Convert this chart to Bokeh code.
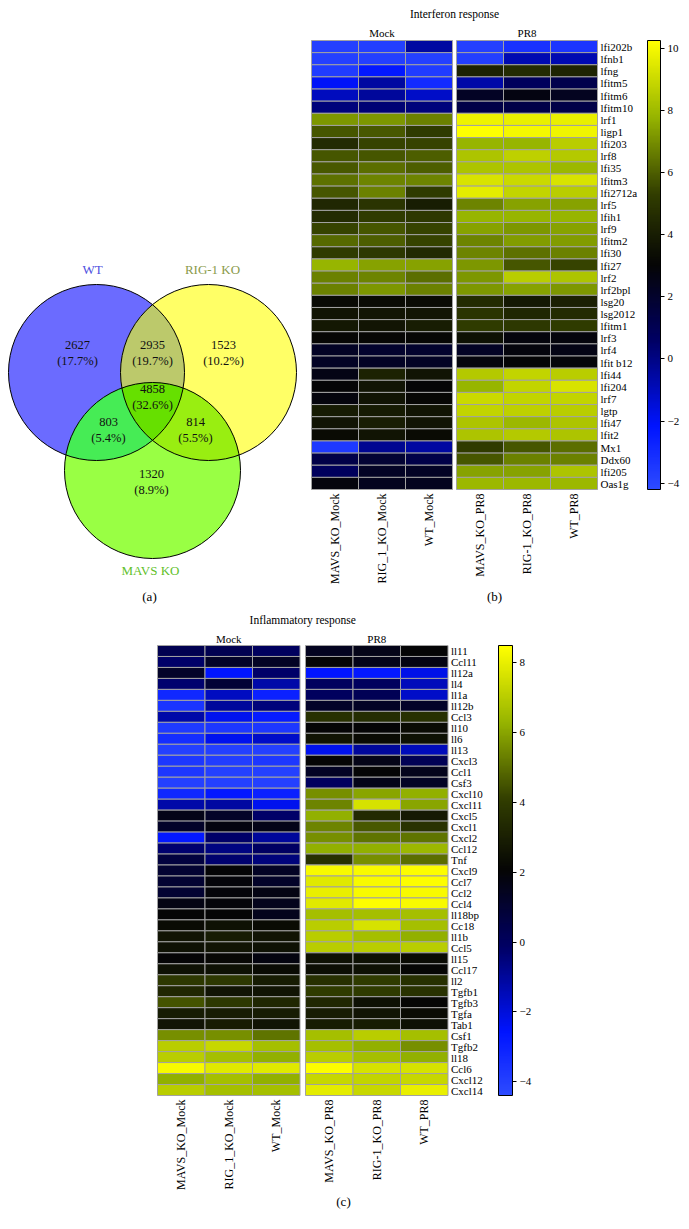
import numpy as np
from bokeh.plotting import figure
from bokeh.models import Range1d, FixedTicker, LinearColorMapper, ColorBar, ColumnDataSource
from bokeh.embed import file_html
from bokeh.resources import INLINE
from bokeh.core.properties import value

FONT = "Liberation Serif"

# ---------------- Venn data ----------------
venn_names = ["WT", "RIG-1 KO", "MAVS KO"]
venn_name_colors = ["#4f4fe0", "#8a9a4a", "#5fbf2a"]
# regions: WT only, RIG only, MAVS only, WT&RIG, WT&MAVS, RIG&MAVS, all three
venn_counts = [2627, 1523, 1320, 2935, 803, 814, 4858]
venn_pcts = ["(17.7%)", "(10.2%)", "(8.9%)", "(19.7%)", "(5.4%)", "(5.5%)", "(32.6%)"]

# ---------------- heatmap common ----------------
samples = ["MAVS_KO_Mock", "RIG_1_KO_Mock", "WT_Mock", "MAVS_KO_PR8", "RIG-1_KO_PR8", "WT_PR8"]
groups = ["Mock", "PR8"]

# ---------------- Interferon heatmap data ----------------
ifn_genes = ["lfi202b", "lfnb1", "lfng", "lfitm5", "lfitm6", "lfitm10", "lrf1", "ligp1", "lfi203",
             "lrf8", "lfi35", "lfitm3", "lfi2712a", "lrf5", "lfih1", "lrf9", "lfitm2", "lfi30",
             "lfi27", "lrf2", "lrf2bpl", "lsg20", "lsg2012", "lfitm1", "lrf3", "lrf4", "lfit b12",
             "lfi44", "lfi204", "lrf7", "lgtp", "lfi47", "lfit2", "Mx1", "Ddx60", "lfi205", "Oas1g"]
ifn_mavs_mock = [-3.8, -3.8, -3.6, -2.0, -1.0, 0.2, 7.2, 5.8, 4.6, 5.8, 5.9, 6.4, 5.8, 4.4, 4.6, 5.4,
                 6.2, 5.2, 7.8, 6.7, 6.7, 3.2, 3.6, 3.8, 3.1, 2.2, 2.2, 2.6, 3.0, 2.8, 3.9, 3.6, 3.3,
                 -3.5, 1.3, 0.8, 2.8]
ifn_rig_mock = [-3.7, -3.7, -2.3, -0.5, -0.4, 0.3, 7.2, 5.9, 5.4, 5.8, 6.3, 6.8, 6.7, 4.9, 5.2, 5.8,
                6.0, 5.1, 7.4, 6.8, 7.2, 3.3, 3.7, 3.7, 3.1, 2.0, 2.2, 4.2, 3.6, 3.6, 3.9, 4.0, 3.6,
                -0.2, 1.8, 2.2, 2.4]
ifn_wt_mock = [-0.5, -3.8, -3.6, -3.0, -1.2, 0.2, 6.7, 5.2, 5.4, 6.0, 6.0, 6.8, 5.2, 4.0, 5.1, 5.4,
               5.4, 4.5, 7.4, 6.3, 6.7, 3.3, 3.7, 4.0, 3.1, 2.0, 2.2, 3.6, 3.0, 3.1, 3.6, 3.6, 3.3,
               -0.5, 1.3, 2.2, 2.4]
ifn_mavs_pr8 = [-3.8, -3.7, 4.2, -0.6, 2.2, 1.3, 9.8, 10.2, 7.8, 8.3, 8.3, 9.3, 9.6, 6.8, 7.8, 7.4,
                6.8, 6.8, 7.2, 7.2, 7.2, 4.6, 4.9, 5.2, 3.5, 2.2, 2.8, 8.5, 7.8, 9.0, 8.8, 8.3, 8.3,
                5.2, 5.8, 7.4, 7.9]
ifn_rig_pr8 = [-3.2, -0.8, 4.6, 0.8, 2.7, 1.3, 9.7, 10.0, 7.8, 8.7, 8.3, 9.0, 8.8, 7.4, 7.8, 7.2,
               7.3, 6.4, 5.8, 8.6, 7.4, 3.8, 4.4, 5.1, 2.8, 2.8, 3.0, 8.8, 8.8, 8.8, 8.7, 7.9, 8.5,
               5.8, 6.7, 7.4, 7.9]
ifn_wt_pr8 = [-3.4, -0.8, 4.3, 1.2, 2.3, 1.3, 9.7, 9.9, 8.6, 8.5, 7.9, 9.3, 8.6, 7.4, 7.8, 7.4,
              7.3, 6.7, 5.4, 8.3, 7.2, 4.1, 4.6, 5.2, 2.8, 2.6, 2.9, 8.6, 9.3, 8.8, 8.6, 8.3, 8.3,
              6.3, 6.7, 8.3, 7.9]
ifn_ticks = [-4, -2, 0, 2, 4, 6, 8, 10]

# ---------------- Inflammatory heatmap data ----------------
inf_genes = ["ll11", "Ccl11", "ll12a", "ll4", "ll1a", "ll12b", "Ccl3", "ll10", "ll6", "ll13", "Cxcl3",
             "Ccl1", "Csf3", "Cxcl10", "Cxcl11", "Cxcl5", "Cxcl1", "Cxcl2", "Ccl12", "Tnf", "Cxcl9",
             "Ccl7", "Ccl2", "Ccl4", "ll18bp", "Cc18", "ll1b", "Ccl5", "ll15", "Ccl17", "ll2", "Tgfb1",
             "Tgfb3", "Tgfa", "Tab1", "Csf1", "Tgfb2", "ll18", "Ccl6", "Cxcl12", "Cxcl14"]
inf_mavs_mock = [0.3, -0.2, 1.2, -0.3, -3.2, -3.6, -1.2, -3.8, -3.4, -4.0, -3.7, -3.7, -4.0, -3.2,
                 -1.2, 1.6, 1.2, -2.7, -0.3, 0.7, 1.0, 1.0, 1.0, 1.7, 2.0, 2.3, 2.6, 2.5, 2.0, 2.5,
                 3.9, 3.3, 4.5, 2.9, 2.6, 5.6, 7.0, 7.0, 8.3, 6.2, 7.0]
inf_rig_mock = [0.3, 1.2, -2.6, 0.9, -1.6, -1.0, -2.3, -3.7, -2.3, -4.0, -3.9, -4.0, -4.0, -2.7,
                -1.1, 1.2, 1.8, -0.2, -0.6, -0.3, 2.0, 1.9, 1.9, 1.9, 2.0, 2.5, 2.9, 2.6, 2.2, 2.5,
                3.9, 2.6, 3.9, 2.9, 2.9, 5.6, 7.3, 6.6, 7.8, 6.6, 6.6]
inf_wt_mock = [0.0, 1.3, -0.2, -1.2, -3.0, -0.5, -2.8, -3.7, -1.7, -4.0, -3.7, -4.0, -4.0, -3.0,
               -2.3, -0.2, 1.6, -1.0, -0.1, -0.5, 1.3, 1.2, 1.7, 1.5, 1.5, 2.3, 2.6, 2.5, 1.8, 2.3,
               2.9, 2.6, 3.3, 2.9, 2.6, 5.1, 6.6, 6.2, 7.8, 6.2, 6.6]
inf_mavs_pr8 = [1.4, 2.0, -2.6, 0.0, 0.0, 1.2, 3.6, 2.0, 2.6, -2.3, 2.0, 1.3, 0.0, 5.6, 5.4, 6.2,
                5.4, 5.6, 6.2, 3.6, 8.3, 7.8, 8.0, 7.8, 6.6, 7.0, 7.0, 7.0, 2.5, 2.4, 3.6, 4.0, 3.3,
                2.9, 2.9, 6.6, 6.6, 7.0, 8.4, 7.3, 7.9]
inf_rig_pr8 = [1.6, 1.6, -2.7, 0.0, 0.2, 1.3, 3.5, 2.0, 2.3, -1.0, 1.6, 2.0, 1.6, 6.0, 7.6, 3.4,
               4.6, 5.1, 6.2, 5.6, 8.3, 8.3, 8.3, 8.4, 6.6, 7.6, 6.6, 7.0, 2.5, 2.5, 4.0, 4.0, 2.5,
               2.6, 2.9, 7.0, 6.2, 6.6, 7.6, 7.2, 7.3]
inf_wt_pr8 = [2.0, 1.7, -2.2, -1.5, -1.7, 1.2, 3.6, 2.3, 2.5, -1.5, 0.2, 1.5, 1.3, 6.2, 6.0, 2.8,
              3.7, 5.1, 6.4, 5.0, 8.4, 8.4, 8.3, 8.3, 6.6, 6.6, 6.2, 7.0, 2.3, 2.1, 3.6, 3.7, 2.1,
              2.3, 2.5, 6.6, 5.6, 6.2, 7.6, 7.3, 8.0]
inf_ticks = [-4, -2, 0, 2, 4, 6, 8]

# ---------------- colour palette (blue - black - yellow) ----------------
_anc_t = [0.0, 0.14, 0.33, 0.5, 0.66, 0.83, 1.0]
_anc_rgb = [(45, 75, 255), (0, 20, 255), (0, 0, 100), (5, 5, 5), (50, 62, 0), (150, 180, 0), (255, 255, 0)]
PALETTE = []
for k in range(256):
    t = k / 255.0
    rgb = [int(round(np.interp(t, _anc_t, [a[i] for a in _anc_rgb]))) for i in range(3)]
    PALETTE.append("#%02x%02x%02x" % tuple(rgb))

# ---------------- canvas (pixel coordinates, y downwards) ----------------
W, H = 685, 1225
p = figure(width=W, height=H, x_range=Range1d(0, W), y_range=Range1d(H, 0),
           x_axis_location=None, y_axis_location=None, toolbar_location=None,
           output_backend="svg", min_border=0)
p.grid.visible = False
p.outline_line_color = None


def txt(xs, ys, texts, size, color="black", align="center", baseline="middle", angle=0.0):
    p.text(x=xs, y=ys, text=texts, text_font=value(FONT), text_font_size=size,
           text_color=color, text_align=align, text_baseline=baseline, angle=angle)


# ---------------- Venn (a) ----------------
R = 88
cen = [(96, 372), (208, 372), (152, 470)]
single_cols = ["#6b6bff", "#ffff66", "#99ff44"]
pair_cols = {(0, 1): "#bcc96b", (0, 2): "#46ec55", (1, 2): "#99ee11"}
triple_col = "#66e000"


def inter_poly(idx):
    pts = []
    th = np.linspace(0, 2 * np.pi, 1440, endpoint=False)
    for i in idx:
        cx, cy = cen[i]
        px = cx + R * np.cos(th)
        py = cy + R * np.sin(th)
        ok = np.ones_like(th, dtype=bool)
        for j in idx:
            if j == i:
                continue
            qx, qy = cen[j]
            ok &= (px - qx) ** 2 + (py - qy) ** 2 <= R * R + 1e-6
        pts += list(zip(px[ok], py[ok]))
    pts = np.array(pts)
    c = pts.mean(axis=0)
    ang = np.arctan2(pts[:, 1] - c[1], pts[:, 0] - c[0])
    o = np.argsort(ang)
    return list(pts[o, 0]), list(pts[o, 1])


p.circle(x=[c[0] for c in cen], y=[c[1] for c in cen], radius=R, fill_color=single_cols, line_color=None)
for (a, b), col in pair_cols.items():
    xs, ys = inter_poly([a, b])
    p.patch(xs, ys, fill_color=col, line_color=None)
xs, ys = inter_poly([0, 1, 2])
p.patch(xs, ys, fill_color=triple_col, line_color=None)
p.circle(x=[c[0] for c in cen], y=[c[1] for c in cen], radius=R, fill_color=None,
         line_color="black", line_width=1)

region_pos = [(77, 352), (223, 352), (151, 481), (152, 352), (108, 429), (195, 429), (152, 396.5)]
txt([q[0] for q in region_pos], [q[1] - 8 for q in region_pos], [str(c) for c in venn_counts], "12.5px", "#111111")
txt([q[0] for q in region_pos], [q[1] + 8 for q in region_pos], venn_pcts, "12.5px", "#111111")
name_pos = [(92, 269), (212, 269), (150, 570)]
txt([q[0] for q in name_pos], [q[1] for q in name_pos], venn_names, "13px", venn_name_colors)
txt([149], [596], ["(a)"], "13px")


# ---------------- heatmaps (b), (c) ----------------
def heatmap(genes, cols, low, high, ticks, x0, cw, gap, y0, y1, title, title_y, group_y, tag, tag_x, tag_y,
            cb_x, cb_w):
    mapper = LinearColorMapper(palette=PALETTE, low=low, high=high)
    n = len(genes)
    rh = (y1 - y0) / n
    cxs = [x0 + cw * (j + 0.5) + (gap if j >= 3 else 0.0) for j in range(len(cols))]
    rys = [y0 + rh * (i + 0.5) for i in range(n)]
    xs, ys, vs = [], [], []
    for j, colvals in enumerate(cols):
        for i, v in enumerate(colvals):
            xs.append(cxs[j])
            ys.append(rys[i])
            vs.append(v)
    src = ColumnDataSource(dict(x=xs, y=ys, v=vs))
    p.rect(x="x", y="y", width=cw, height=rh, source=src,
           fill_color={"field": "v", "transform": mapper}, line_color="#a2a2a2", line_width=1)
    right = cxs[-1] + cw / 2
    txt([right + 3] * n, [y + 0.5 for y in rys], genes, "11px", align="left")
    txt(cxs, [y1 + 4] * len(cxs), samples, "12px", align="right", angle=np.pi / 2)
    txt([(cxs[0] + cxs[2]) / 2, (cxs[3] + cxs[5]) / 2], [group_y] * 2, groups, "11px")
    txt([(x0 + right) / 2], [title_y], [title], "11.5px")
    txt([tag_x], [tag_y], [tag], "13px")
    cb = ColorBar(color_mapper=mapper, ticker=FixedTicker(ticks=ticks), width=cb_w,
                  height=int(round(y1 - y0)), location=(cb_x, H - y1),
                  major_label_overrides={t: (("\u2212%d" % -t) if t < 0 else str(t)) for t in ticks},
                  major_label_text_font=FONT, major_label_text_font_size="11px",
                  major_label_text_color="black",
                  major_tick_in=0, major_tick_out=4, major_tick_line_color="black",
                  minor_tick_line_color=None, bar_line_color="black", bar_line_width=1,
                  border_line_color=None, background_fill_color=None,
                  margin=0, padding=0, label_standoff=3)
    p.add_layout(cb)


heatmap(ifn_genes, [ifn_mavs_mock, ifn_rig_mock, ifn_wt_mock, ifn_mavs_pr8, ifn_rig_pr8, ifn_wt_pr8],
        -4.2, 10.25, ifn_ticks, x0=311, cw=47.0, gap=4.0, y0=40, y1=489,
        title="Interferon response", title_y=13, group_y=32, tag="(b)", tag_x=494, tag_y=596,
        cb_x=647, cb_w=13)
heatmap(inf_genes, [inf_mavs_mock, inf_rig_mock, inf_wt_mock, inf_mavs_pr8, inf_rig_pr8, inf_wt_pr8],
        -4.4, 8.5, inf_ticks, x0=157, cw=47.5, gap=5.5, y0=645, y1=1095,
        title="Inflammatory response", title_y=619, group_y=638, tag="(c)", tag_x=343, tag_y=1201,
        cb_x=498, cb_w=14)

open("out.html", "w").write(file_html(p, INLINE))
